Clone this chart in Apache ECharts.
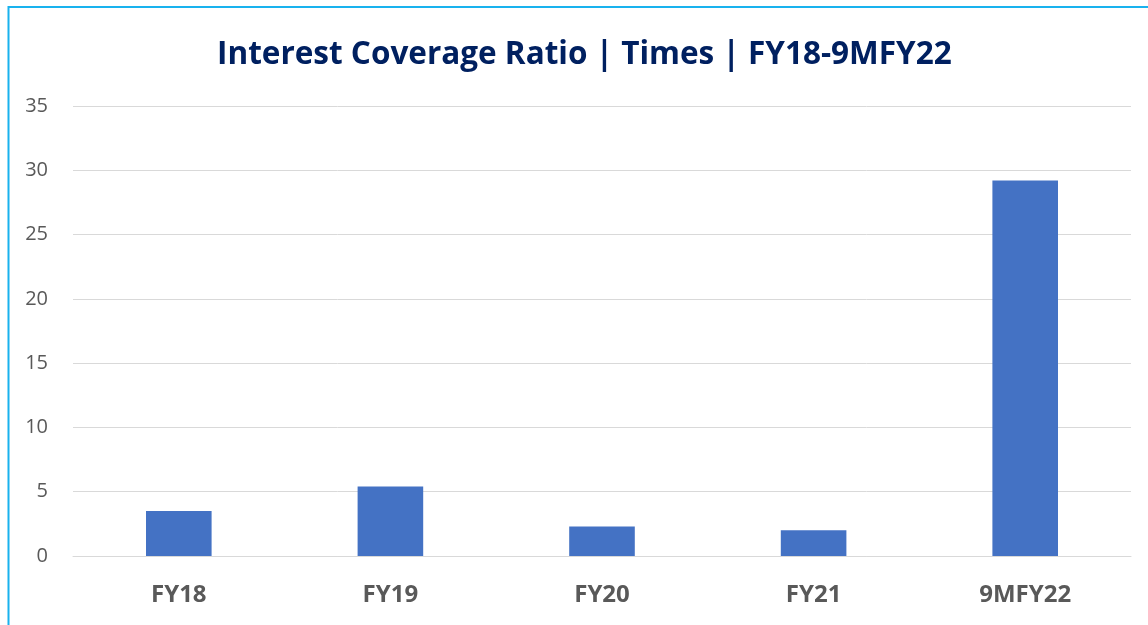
<!DOCTYPE html>
<html>
<head>
<meta charset="utf-8">
<script src="https://cdn.jsdelivr.net/npm/echarts@6/dist/echarts.min.js"></script>
<style>
  html, body { margin: 0; padding: 0; background: #fff; }
  #chart { width: 1148px; height: 625px; }
</style>
</head>
<body>
<div id="chart"></div>
<script>
// 数据
const categories = ['FY18', 'FY19', 'FY20', 'FY21', '9MFY22']
const ratioValues = [3.5, 5.4, 2.3, 2.0, 29.2]
const yTicks = [0, 5, 10, 15, 20, 25, 30, 35]

const myChart = echarts.init(document.getElementById('chart'))

const option = {
  backgroundColor: '#fff',
  title: {
    text: 'Interest Coverage Ratio | Times | FY18-9MFY22',
    left: 212,
    top: 34,
    textStyle: {
      color: '#002060',
      fontFamily: 'Open Sans',
      fontWeight: 'bold',
      fontSize: 31.5
    }
  },
  // 外框(只看得到左边和上边)
  graphic: [{
    type: 'polyline',
    shape: { points: [[8.5, 640], [8.5, 7], [1160, 7]] },
    style: { stroke: '#19B2EE', lineWidth: 2, fill: null },
    silent: true
  }],
  grid: {
    left: 73,
    right: 17,
    top: 106,
    bottom: 69,
    containLabel: false
  },
  xAxis: {
    type: 'category',
    data: categories,
    axisLine: { show: true, lineStyle: { color: '#d9d9d9', width: 1 } },
    axisTick: { show: false },
    axisLabel: {
      color: '#595959',
      fontFamily: 'Open Sans',
      fontWeight: 'bold',
      fontSize: 24,
      margin: 27
    }
  },
  yAxis: {
    type: 'value',
    min: yTicks[0],
    max: yTicks[yTicks.length - 1],
    interval: 5,
    axisLine: { show: false },
    axisTick: { show: false },
    splitLine: { lineStyle: { color: '#d9d9d9', width: 1 } },
    axisLabel: {
      color: '#595959',
      fontFamily: 'Open Sans',
      fontSize: 20,
      margin: 25
    }
  },
  series: [{
    type: 'bar',
    data: ratioValues,
    barWidth: '31%',
    itemStyle: { color: '#4472C4' },
    animation: false
  }]
}
myChart.setOption(option)
</script>
</body>
</html>
